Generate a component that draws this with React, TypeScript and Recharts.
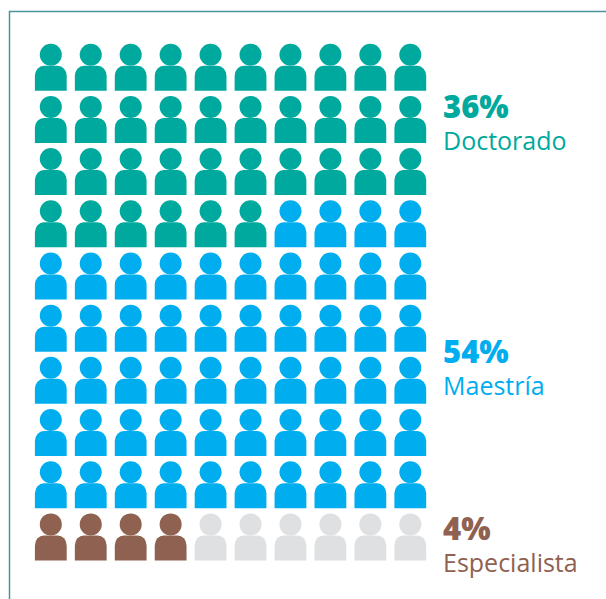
import { ScatterChart, Scatter, XAxis, YAxis } from "recharts"

// one icon per person, 100 in all, read row by row from the top left
const groups = ["Doctorado", "Maestría", "Especialista", "Otros"]
const counts = [36, 54, 4, 6]
const colors = ["#00a99d", "#00aeef", "#8f6150", "#dfe0e2"]
const percents = ["36%", "54%", "4%"]
const legendBaselines = [118, 363, 540]

const COLS = 10

let seen = 0
const series = counts.map((count) =>
  Array.from({ length: count }, () => {
    const i = seen++
    return { col: (i % COLS) + 1, row: Math.floor(i / COLS) + 1 }
  })
)

function Person({ cx, cy, fill }: any) {
  const left = cx - 15.9
  const right = cx + 15.9
  const top = cy + 11
  const bottom = cy + 36
  return (
    <g fill={fill}>
      <circle cx={cx} cy={cy} r={11} />
      <path
        d={`M${left} ${bottom} V${top + 10} A9 10 0 0 1 ${left + 9} ${top} H${right - 9} A9 10 0 0 1 ${right} ${top + 10} V${bottom} Z`}
      />
    </g>
  )
}

export default function App() {
  return (
    <div style={{ position: "absolute", left: 0, top: 0, width: 606, height: 599 }}>
      <ScatterChart width={606} height={599} margin={{ top: 54.7, right: 195.7, bottom: 74.6, left: 50.8 }}>
        <rect x={9.5} y={11.5} width={620} height={620} fill="none" stroke="#4a939c" strokeWidth={1.5} />
        <XAxis type="number" dataKey="col" domain={[1, 10]} hide />
        <YAxis type="number" dataKey="row" domain={[1, 10]} reversed hide />
        {series.map((points, i) => (
          <Scatter
            key={groups[i]}
            name={groups[i]}
            data={points}
            fill={colors[i]}
            shape={<Person />}
            isAnimationActive={false}
          />
        ))}
        {percents.map((p, i) => (
          <g key={p} fill={colors[i]} fontFamily="'Open Sans', sans-serif">
            <text x={443} y={legendBaselines[i]} fontSize={31} fontWeight={800}>
              {p}
            </text>
            <text x={443} y={legendBaselines[i] + 32} fontSize={25}>
              {groups[i]}
            </text>
          </g>
        ))}
      </ScatterChart>
    </div>
  )
}
